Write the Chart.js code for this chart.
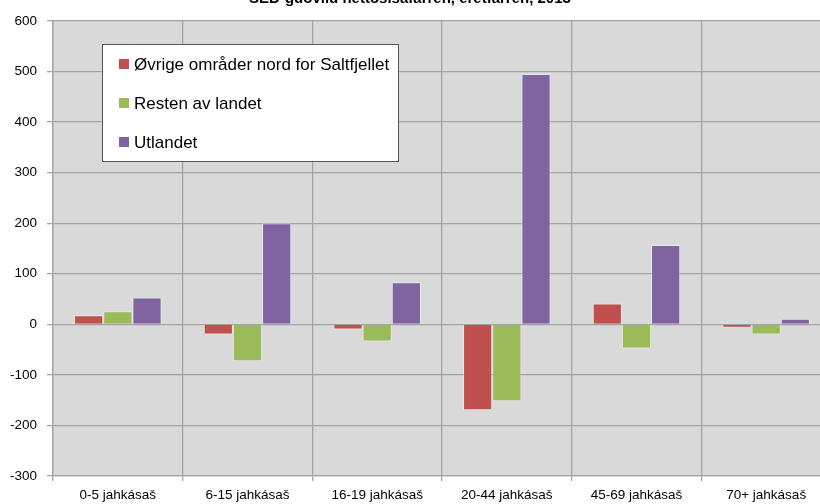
<!DOCTYPE html>
<html>
<head>
<meta charset="utf-8">
<script src="https://cdn.jsdelivr.net/npm/chart.js@4/dist/chart.umd.min.js"></script>
<style>
html,body{margin:0;padding:0;background:#fff;overflow:hidden;}
#wrap{width:820px;height:504px;overflow:hidden;position:relative;}
canvas{display:block;}
</style>
</head>
<body>
<div id="wrap"><canvas id="c" width="840" height="504"></canvas></div>
<script>
const title = "SED-guovllu nettosisafárren, eretfárren, 2013";
const categories = ["0-5 jahkásaš","6-15 jahkásaš","16-19 jahkásaš","20-44 jahkásaš","45-69 jahkásaš","70+ jahkásaš"];
const seriesNames = ["Øvrige områder nord for Saltfjellet","Resten av landet","Utlandet"];
const ovrige = [18, -20, -10, -170, 41, -7];
const resten = [26, -73, -34, -152, -48, -20];
const utlandet = [53, 200, 83, 495, 157, 11];
const yTicks = [-300,-200,-100,0,100,200,300,400,500,600];
const colors = ["#C0504D","#9BBB59","#8064A2"];

const plotBg = {
  id:'plotBg',
  beforeDraw(chart){
    const {ctx, chartArea:a} = chart;
    ctx.save();
    ctx.fillStyle = '#D9D9D9';
    ctx.fillRect(a.left, a.top, a.right-a.left, a.bottom-a.top);
    ctx.restore();
  }
};
const titlePlugin = {
  id:'titlePlugin',
  afterDraw(chart){
    const ctx = chart.ctx;
    ctx.save();
    ctx.font = 'bold 15px "Liberation Sans", Arial, sans-serif';
    ctx.fillStyle = '#000';
    ctx.textAlign = 'center';
    ctx.textBaseline = 'alphabetic';
    ctx.fillText(title, 410, 3);
    ctx.restore();
  }
};
const legendBox = {
  id:'legendBox',
  afterDraw(chart){
    const ctx = chart.ctx;
    ctx.save();
    const x0=102, y0=44, w=296, h=117;
    ctx.fillStyle='#fff';
    ctx.fillRect(x0,y0,w,h);
    ctx.strokeStyle='#555';
    ctx.lineWidth=1;
    ctx.strokeRect(x0+0.5,y0+0.5,w,h);
    ctx.font='17px "Liberation Sans", Arial, sans-serif';
    ctx.textBaseline='middle';
    ctx.textAlign='left';
    chart.data.datasets.forEach((ds,i)=>{
      const cy = 64 + i*39;
      ctx.fillStyle = ds.backgroundColor;
      ctx.fillRect(119, cy-5, 10, 10);
      ctx.fillStyle='#000';
      ctx.fillText(ds.label, 134, cy+1);
    });
    ctx.restore();
  }
};

new Chart(document.getElementById('c'), {
  type:'bar',
  data:{
    labels: categories,
    datasets:[
      {label:seriesNames[0], data:ovrige, backgroundColor:colors[0]},
      {label:seriesNames[1], data:resten, backgroundColor:colors[1]},
      {label:seriesNames[2], data:utlandet, backgroundColor:colors[2]}
    ].map(d=>Object.assign(d,{borderColor:'rgba(255,255,255,0.4)',borderWidth:1,categoryPercentage:0.675,barPercentage:1}))
  },
  options:{
    responsive:false,
    animation:false,
    devicePixelRatio:1,
    layout:{padding:{top:21,right:9,left:0,bottom:0}},
    plugins:{legend:{display:false},tooltip:{enabled:false}},
    scales:{
      x:{
        grid:{offset:true,color:'#A3A3A3',lineWidth:1.3,tickLength:5,drawTicks:true},
        border:{color:'#A3A3A3',width:1.3},
        ticks:{color:'#000',font:{family:'"Liberation Sans", Arial, sans-serif',size:13.5},padding:6,maxRotation:0,autoSkip:false},
        afterFit(s){s.height=28;}
      },
      y:{
        min:-300,max:600,
        afterBuildTicks(s){s.ticks=yTicks.map(v=>({value:v}));},
        grid:{color:'#A3A3A3',lineWidth:1.3,tickLength:6},
        border:{color:'#A3A3A3',width:1.3},
        ticks:{color:'#000',font:{family:'"Liberation Sans", Arial, sans-serif',size:13.5},padding:10},
        afterFit(s){s.width=53;}
      }
    }
  },
  plugins:[plotBg,legendBox,titlePlugin]
});
</script>
</body>
</html>
